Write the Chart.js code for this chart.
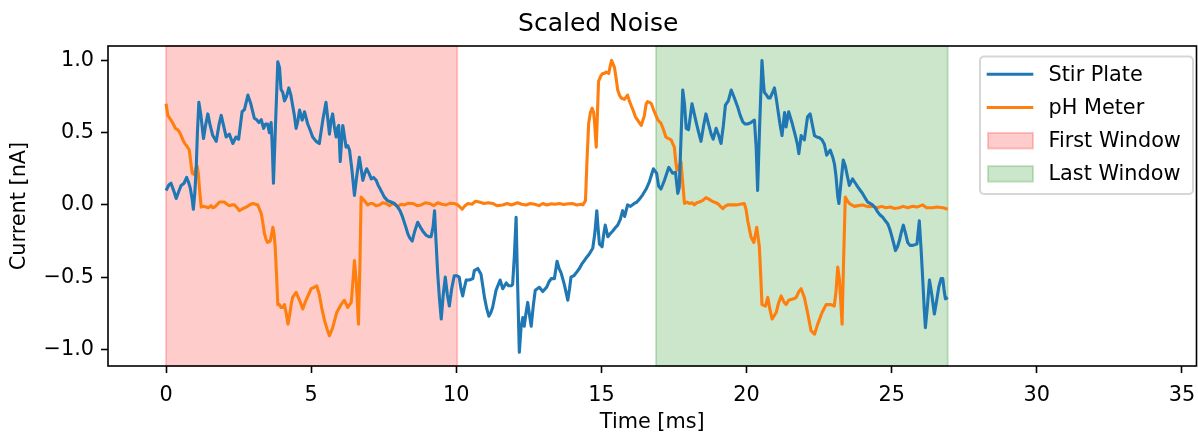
<!DOCTYPE html>
<html>
<head>
<meta charset="utf-8">
<script src="https://cdn.jsdelivr.net/npm/chart.js@4.4.1/dist/chart.umd.min.js"></script>
<style>
  html, body { margin: 0; padding: 0; background: #fff; }
  #noiseChart { display: block; }
</style>
</head>
<body>
<canvas id="noiseChart" width="1198" height="433"></canvas>
<script>
// Values (time in ms, current in nA)
const stirTime = [
  0.00, 0.10, 0.17, 0.28, 0.35, 0.45, 0.52, 0.62, 0.71, 0.77,
  0.83, 0.90, 0.94, 0.99, 1.04, 1.08, 1.13, 1.20, 1.29, 1.36,
  1.44, 1.52, 1.61, 1.73, 1.82, 1.90, 1.98, 2.07, 2.18, 2.30,
  2.41, 2.50, 2.56, 2.62, 2.70, 2.82, 2.92, 3.04, 3.12, 3.20,
  3.28, 3.36, 3.43, 3.50, 3.56, 3.62, 3.66, 3.70, 3.77, 3.85,
  3.91, 3.96, 4.02, 4.08, 4.15, 4.23, 4.30, 4.36, 4.42, 4.48,
  4.54, 4.60, 4.69, 4.77, 4.88, 4.96, 5.05, 5.17, 5.28, 5.40,
  5.51, 5.57, 5.63, 5.68, 5.74, 5.80, 5.86, 5.90, 5.95, 6.00,
  6.05, 6.09, 6.15, 6.20, 6.26, 6.32, 6.40, 6.49, 6.57, 6.66,
  6.72, 6.78, 6.85, 6.91, 6.99, 7.07, 7.15, 7.24, 7.30, 7.35,
  7.43, 7.52, 7.63, 7.75, 7.87, 7.98, 8.06, 8.15, 8.24, 8.33,
  8.40, 8.48, 8.57, 8.67, 8.75, 8.84, 8.96, 9.05, 9.13, 9.20,
  9.25, 9.30, 9.36, 9.42, 9.48, 9.55, 9.62, 9.69, 9.76, 9.84,
  9.93, 10.01, 10.10, 10.16, 10.22, 10.28, 10.34, 10.45, 10.57, 10.62,
  10.74, 10.85, 10.91, 10.97, 11.05, 11.12, 11.18, 11.25, 11.37, 11.45,
  11.51, 11.60, 11.72, 11.80, 11.89, 11.94, 12.00, 12.06, 12.10, 12.17,
  12.23, 12.29, 12.34, 12.40, 12.46, 12.52, 12.58, 12.65, 12.72, 12.86,
  12.98, 13.11, 13.20, 13.27, 13.38, 13.47, 13.54, 13.61, 13.72, 13.84,
  13.90, 13.95, 14.05, 14.13, 14.24, 14.32, 14.41, 14.50, 14.58, 14.70,
  14.77, 14.84, 14.88, 14.93, 15.02, 15.08, 15.13, 15.22, 15.30, 15.39,
  15.47, 15.56, 15.65, 15.73, 15.80, 15.90, 16.00, 16.13, 16.22, 16.31,
  16.42, 16.54, 16.65, 16.79, 16.90, 16.97, 17.05, 17.17, 17.32, 17.45,
  17.55, 17.63, 17.68, 17.80, 17.86, 17.92, 18.00, 18.12, 18.26, 18.35,
  18.43, 18.52, 18.60, 18.70, 18.78, 18.85, 18.95, 19.04, 19.12, 19.20,
  19.27, 19.37, 19.47, 19.58, 19.69, 19.78, 19.87, 19.95, 20.03, 20.15,
  20.27, 20.33, 20.38, 20.45, 20.53, 20.58, 20.61, 20.69, 20.75, 20.81,
  20.90, 20.96, 21.02, 21.07, 21.15, 21.22, 21.31, 21.36, 21.45, 21.57,
  21.68, 21.75, 21.80, 21.88, 21.99, 22.10, 22.19, 22.26, 22.34, 22.42,
  22.51, 22.60, 22.68, 22.76, 22.88, 22.97, 23.03, 23.08, 23.14, 23.18,
  23.25, 23.33, 23.40, 23.45, 23.54, 23.60, 23.65, 23.75, 23.83, 23.92,
  24.00, 24.08, 24.17, 24.26, 24.34, 24.43, 24.52, 24.60, 24.69, 24.78,
  24.86, 24.92, 24.98, 25.06, 25.13, 25.20, 25.26, 25.33, 25.40, 25.48,
  25.55, 25.63, 25.72, 25.80, 25.87, 25.95, 26.01, 26.07, 26.12, 26.16,
  26.23, 26.30, 26.38, 26.47, 26.55, 26.62, 26.70, 26.76, 26.81, 26.85,
  26.93
];
const stirCurrent = [
  0.10, 0.14, 0.15, 0.09, 0.045, 0.10, 0.135, 0.15, 0.19, 0.16,
  0.12, 0.04, -0.03, 0.08, 0.26, 0.50, 0.71, 0.62, 0.46, 0.55,
  0.63, 0.55, 0.48, 0.44, 0.55, 0.62, 0.55, 0.47, 0.49, 0.425,
  0.47, 0.455, 0.55, 0.645, 0.66, 0.76, 0.70, 0.60, 0.59, 0.57,
  0.59, 0.53, 0.56, 0.56, 0.50, 0.57, 0.40, 0.15, 0.55, 0.99,
  0.95, 0.80, 0.78, 0.72, 0.75, 0.81, 0.76, 0.69, 0.62, 0.53,
  0.58, 0.656, 0.587, 0.645, 0.56, 0.52, 0.47, 0.44, 0.425, 0.587,
  0.71, 0.60, 0.49, 0.58, 0.63, 0.54, 0.47, 0.53, 0.55, 0.30,
  0.45, 0.55, 0.47, 0.40, 0.41, 0.38, 0.25, 0.066, 0.20, 0.33,
  0.25, 0.17, 0.22, 0.25, 0.22, 0.18, 0.19, 0.17, 0.14, 0.12,
  0.09, 0.054, 0.03, 0.02, 0.01, -0.015, -0.04, -0.085, -0.14, -0.20,
  -0.23, -0.25, -0.18, -0.12, -0.15, -0.18, -0.21, -0.22, -0.22, -0.15,
  -0.04, -0.25, -0.48, -0.65, -0.79, -0.62, -0.50, -0.62, -0.70, -0.58,
  -0.49, -0.49, -0.50, -0.58, -0.63, -0.57, -0.52, -0.52, -0.51, -0.455,
  -0.44, -0.48, -0.56, -0.64, -0.72, -0.77, -0.75, -0.71, -0.59, -0.55,
  -0.52, -0.58, -0.54, -0.56, -0.56, -0.55, -0.35, -0.085, -0.45, -1.02,
  -0.85, -0.78, -0.84, -0.75, -0.675, -0.76, -0.84, -0.70, -0.59, -0.57,
  -0.60, -0.57, -0.53, -0.51, -0.51, -0.39, -0.44, -0.47, -0.55, -0.66,
  -0.58, -0.50, -0.49, -0.47, -0.44, -0.41, -0.385, -0.36, -0.34, -0.30,
  -0.20, -0.04, -0.15, -0.27, -0.29, -0.20, -0.14, -0.22, -0.20, -0.18,
  -0.16, -0.14, -0.10, -0.04, -0.08, 0.00, -0.01, 0.01, 0.02, 0.04,
  0.07, 0.11, 0.16, 0.25, 0.22, 0.13, 0.11, 0.17, 0.26, 0.22,
  0.225, 0.08, 0.12, 0.795, 0.70, 0.53, 0.52, 0.70, 0.575, 0.50,
  0.44, 0.55, 0.63, 0.55, 0.49, 0.455, 0.53, 0.48, 0.425, 0.55,
  0.69, 0.72, 0.795, 0.74, 0.68, 0.62, 0.575, 0.56, 0.56, 0.57,
  0.587, 0.40, 0.10, 0.55, 1.00, 0.85, 0.78, 0.76, 0.74, 0.74,
  0.78, 0.81, 0.74, 0.67, 0.56, 0.48, 0.64, 0.54, 0.645, 0.565,
  0.48, 0.42, 0.355, 0.48, 0.45, 0.61, 0.63, 0.56, 0.48, 0.47,
  0.465, 0.45, 0.42, 0.345, 0.38, 0.33, 0.28, 0.20, 0.06, 0.01,
  0.15, 0.31, 0.27, 0.22, 0.135, 0.16, 0.18, 0.15, 0.125, 0.10,
  0.078, 0.05, 0.02, 0.01, 0.00, -0.02, -0.05, -0.07, -0.085, -0.11,
  -0.13, -0.16, -0.20, -0.26, -0.316, -0.29, -0.25, -0.19, -0.14, -0.20,
  -0.26, -0.28, -0.28, -0.275, -0.27, -0.11, -0.30, -0.52, -0.72, -0.85,
  -0.70, -0.52, -0.62, -0.755, -0.66, -0.57, -0.51, -0.51, -0.60, -0.65,
  -0.64
];

const phTime = [
  0.00, 0.06, 0.17, 0.25, 0.32, 0.40, 0.46, 0.52, 0.58, 0.66,
  0.71, 0.80, 0.85, 0.90, 0.97, 1.02, 1.07, 1.11, 1.15, 1.21,
  1.30, 1.38, 1.46, 1.55, 1.61, 1.67, 1.75, 1.84, 1.92, 2.01,
  2.10, 2.18, 2.27, 2.36, 2.45, 2.53, 2.65, 2.76, 2.88, 2.99,
  3.08, 3.16, 3.22, 3.28, 3.34, 3.39, 3.45, 3.50, 3.59, 3.64,
  3.68, 3.72, 3.76, 3.81, 3.85, 3.91, 3.96, 4.02, 4.08, 4.14,
  4.20, 4.26, 4.31, 4.36, 4.48, 4.60, 4.71, 4.82, 4.91, 5.00,
  5.10, 5.19, 5.28, 5.37, 5.46, 5.55, 5.63, 5.74, 5.88, 6.03,
  6.14, 6.26, 6.38, 6.45, 6.49, 6.55, 6.63, 6.68, 6.72, 6.83,
  6.95, 7.03, 7.12, 7.23, 7.35, 7.46, 7.58, 7.70, 7.81, 7.90,
  7.98, 8.10, 8.21, 8.35, 8.50, 8.65, 8.79, 8.93, 9.07, 9.22,
  9.36, 9.50, 9.65, 9.80, 9.93, 10.05, 10.20, 10.30, 10.40, 10.55,
  10.65, 10.79, 10.95, 11.10, 11.25, 11.40, 11.60, 11.75, 11.90, 12.11,
  12.25, 12.40, 12.55, 12.70, 12.85, 12.98, 13.12, 13.28, 13.40, 13.55,
  13.70, 13.85, 14.00, 14.15, 14.30, 14.36, 14.45, 14.50, 14.56, 14.62,
  14.68, 14.73, 14.76, 14.82, 14.86, 14.90, 14.97, 15.04, 15.10, 15.16,
  15.25, 15.30, 15.35, 15.45, 15.51, 15.56, 15.62, 15.68, 15.79, 15.90,
  15.96, 16.02, 16.10, 16.17, 16.27, 16.37, 16.48, 16.54, 16.59, 16.65,
  16.72, 16.82, 16.94, 17.05, 17.12, 17.22, 17.30, 17.40, 17.51, 17.56,
  17.60, 17.68, 17.74, 17.80, 17.86, 17.95, 18.03, 18.12, 18.20, 18.28,
  18.37, 18.48, 18.60, 18.70, 18.78, 18.88, 19.00, 19.10, 19.18, 19.26,
  19.35, 19.50, 19.64, 19.78, 19.92, 19.98, 20.04, 20.10, 20.15, 20.25,
  20.35, 20.44, 20.49, 20.53, 20.65, 20.73, 20.80, 20.88, 21.02, 21.10,
  21.19, 21.28, 21.36, 21.45, 21.53, 21.62, 21.71, 21.80, 21.88, 21.99,
  22.10, 22.22, 22.34, 22.45, 22.60, 22.74, 22.91, 23.02, 23.08, 23.14,
  23.20, 23.29, 23.34, 23.40, 23.47, 23.54, 23.62, 23.71, 23.85, 24.00,
  24.17, 24.34, 24.50, 24.65, 24.80, 24.95, 25.10, 25.26, 25.40, 25.55,
  25.72, 25.87, 26.07, 26.20, 26.41, 26.55, 26.76, 26.85, 26.93
];
const phCurrent = [
  0.70, 0.62, 0.587, 0.56, 0.53, 0.52, 0.505, 0.48, 0.45, 0.42,
  0.41, 0.38, 0.30, 0.22, 0.21, 0.25, 0.27, 0.22, 0.12, -0.015,
  -0.01, -0.015, -0.02, -0.005, -0.02, -0.015, 0.00, 0.02, 0.02, 0.02,
  0.005, -0.005, 0.00, 0.00, -0.02, -0.04, -0.025, -0.015, 0.00, 0.01,
  0.005, 0.00, -0.03, -0.06, -0.13, -0.20, -0.24, -0.26, -0.25, -0.20,
  -0.155, -0.20, -0.29, -0.50, -0.69, -0.69, -0.71, -0.71, -0.69, -0.75,
  -0.825, -0.76, -0.69, -0.64, -0.605, -0.66, -0.72, -0.66, -0.62, -0.58,
  -0.57, -0.56, -0.62, -0.72, -0.80, -0.86, -0.906, -0.85, -0.745, -0.69,
  -0.66, -0.71, -0.675, -0.50, -0.385, -0.52, -0.825, -0.40, 0.054, 0.03,
  0.00, 0.01, 0.01, -0.005, 0.00, 0.015, 0.01, -0.005, 0.01, 0.00,
  -0.01, 0.005, 0.00, 0.012, 0.01, -0.005, 0.00, 0.015, 0.01, -0.005,
  0.015, 0.005, 0.00, 0.012, 0.01, 0.00, -0.03, -0.005, 0.01, 0.005,
  0.025, 0.02, 0.01, 0.015, 0.01, -0.005, 0.00, 0.01, 0.00, 0.015,
  0.005, 0.00, 0.01, 0.005, -0.005, 0.01, 0.00, 0.008, 0.005, 0.01,
  0.003, 0.008, 0.01, 0.00, 0.005, 0.00, 0.03, 0.30, 0.565, 0.64,
  0.67, 0.64, 0.58, 0.40, 0.62, 0.855, 0.89, 0.91, 0.91, 0.92,
  0.91, 0.96, 1.00, 0.95, 0.87, 0.795, 0.76, 0.74, 0.73, 0.76,
  0.72, 0.69, 0.65, 0.61, 0.58, 0.55, 0.62, 0.70, 0.715, 0.71,
  0.70, 0.645, 0.59, 0.565, 0.53, 0.47, 0.46, 0.45, 0.40, 0.30,
  0.24, 0.27, 0.30, 0.15, 0.01, 0.02, 0.01, 0.015, 0.00, 0.015,
  0.02, 0.03, 0.05, 0.04, 0.03, 0.02, 0.01, -0.01, -0.026, -0.01,
  0.00, 0.00, 0.00, 0.005, 0.01, -0.03, -0.11, -0.17, -0.22, -0.26,
  -0.155, -0.29, -0.50, -0.69, -0.70, -0.64, -0.72, -0.79, -0.745, -0.68,
  -0.63, -0.67, -0.69, -0.66, -0.655, -0.65, -0.64, -0.60, -0.58, -0.64,
  -0.745, -0.87, -0.895, -0.825, -0.745, -0.69, -0.69, -0.70, -0.60, -0.43,
  -0.52, -0.825, -0.40, 0.054, 0.03, 0.01, 0.00, -0.01, -0.005, 0.00,
  -0.012, -0.01, -0.02, -0.01, -0.02, -0.015, -0.025, -0.02, -0.01, -0.02,
  -0.01, -0.015, 0.00, -0.02, -0.02, -0.015, -0.02, -0.025, -0.03
];

// shaded windows
const windowNames = ['First Window', 'Last Window'];
const windowStart = [0, 16.88];
const windowEnd = [10.03, 26.93];

// axis ticks
const xTicks = [0, 5, 10, 15, 20, 25, 30, 35];
const yTicks = [-1.0, -0.5, 0.0, 0.5, 1.0];

const toPoints = (xs, ys) => xs.map((x, i) => ({ x: x, y: ys[i] }));

const windowFill = ['rgba(255, 0, 0, 0.2)', 'rgba(0, 128, 0, 0.2)'];

Chart.defaults.font.family = "'DejaVu Sans', sans-serif";
Chart.defaults.color = '#000';

// Shaded spans behind the lines
const windowPlugin = {
  id: 'windows',
  beforeDatasetsDraw(chart) {
    const ctx = chart.ctx;
    const area = chart.chartArea;
    const x = chart.scales.x;
    ctx.save();
    windowNames.forEach((name, i) => {
      const x0 = x.getPixelForValue(windowStart[i]);
      const x1 = x.getPixelForValue(windowEnd[i]);
      ctx.fillStyle = windowFill[i];
      ctx.fillRect(x0, area.top, x1 - x0, area.bottom - area.top);
      ctx.strokeStyle = windowFill[i];
      ctx.lineWidth = 2;
      ctx.strokeRect(x0, area.top, x1 - x0, area.bottom - area.top);
    });
    ctx.restore();
  }
};

// Frame on all four sides plus the legend box
const framePlugin = {
  id: 'frame',
  afterDatasetsDraw(chart) {
    const ctx = chart.ctx;
    const a = chart.chartArea;
    ctx.save();
    ctx.strokeStyle = '#000';
    ctx.lineWidth = 1.6;
    ctx.strokeRect(a.left, a.top, a.right - a.left, a.bottom - a.top);
    ctx.restore();
  },
  afterDraw(chart) {
    const ctx = chart.ctx;
    const a = chart.chartArea;
    const left = a.right - 216.5;
    const top = a.top + 10.5;
    const w = 213;
    const h = 137.5;
    ctx.save();
    ctx.beginPath();
    ctx.roundRect(left, top, w, h, 4);
    ctx.fillStyle = 'rgba(255, 255, 255, 0.8)';
    ctx.fill();
    ctx.strokeStyle = 'rgba(204, 204, 204, 0.8)';
    ctx.lineWidth = 2;
    ctx.stroke();

    const rowY = (i) => top + 17.8 + i * 33.2;
    ctx.font = "20.8px 'DejaVu Sans'";
    ctx.textBaseline = 'middle';
    ctx.textAlign = 'left';

    chart.data.datasets.forEach((ds, i) => {
      const y = rowY(i);
      ctx.beginPath();
      ctx.moveTo(left + 6.7, y);
      ctx.lineTo(left + 53.3, y);
      ctx.strokeStyle = ds.borderColor;
      ctx.lineWidth = ds.borderWidth;
      ctx.stroke();
      ctx.fillStyle = '#000';
      ctx.fillText(ds.label, left + 68.5, y + 1);
    });
    windowNames.forEach((name, j) => {
      const y = rowY(chart.data.datasets.length + j);
      ctx.fillStyle = windowFill[j];
      ctx.fillRect(left + 8, y - 7.8, 45, 15.6);
      ctx.strokeStyle = windowFill[j];
      ctx.lineWidth = 2;
      ctx.strokeRect(left + 8, y - 7.8, 45, 15.6);
      ctx.fillStyle = '#000';
      ctx.fillText(name, left + 68.5, y + 1);
    });
    ctx.restore();
  }
};

const ctx = document.getElementById('noiseChart').getContext('2d');
const noiseChart = new Chart(ctx, {
  type: 'line',
  data: {
    datasets: [{
      label: 'Stir Plate',
      data: toPoints(stirTime, stirCurrent),
      borderColor: '#1f77b4',
      borderWidth: 3.1,
      pointRadius: 0,
      tension: 0,
      borderJoinStyle: 'round',
      fill: false
    }, {
      label: 'pH Meter',
      data: toPoints(phTime, phCurrent),
      borderColor: '#ff7f0e',
      borderWidth: 3.1,
      pointRadius: 0,
      tension: 0,
      borderJoinStyle: 'round',
      fill: false
    }]
  },
  options: {
    responsive: false,
    animation: false,
    devicePixelRatio: 1,
    layout: { padding: { left: 0, right: 1.5, top: 0, bottom: 0 } },
    plugins: {
      legend: { display: false },
      tooltip: { enabled: false },
      title: {
        display: true,
        text: 'Scaled Noise',
        color: '#000',
        font: { size: 25, weight: 'normal' },
        padding: { top: 9, bottom: 7 }
      }
    },
    scales: {
      x: {
        type: 'linear',
        min: -2,
        max: 35.5,
        afterBuildTicks: (scale) => { scale.ticks = xTicks.map(v => ({ value: v })); },
        afterFit: (scale) => {
          scale.height = 67;
          scale.paddingLeft = 0;
          scale.paddingRight = 0;
        },
        grid: { drawOnChartArea: false, drawTicks: true, tickLength: 7, tickColor: '#000', tickWidth: 1.6 },
        border: { display: false },
        ticks: { font: { size: 20.8 }, color: '#000', padding: 10.5, maxRotation: 0, callback: (v) => String(v) },
        title: { display: true, text: 'Time [ms]', color: '#000', font: { size: 20.8, lineHeight: 1 }, padding: { top: 0, bottom: 0 } }
      },
      y: {
        type: 'linear',
        min: -1.115,
        max: 1.10,
        afterBuildTicks: (scale) => { scale.ticks = yTicks.map(v => ({ value: v })); },
        afterFit: (scale) => {
          scale.width = 108;
          scale.paddingTop = 0;
          scale.paddingBottom = 0;
        },
        grid: { drawOnChartArea: false, drawTicks: true, tickLength: 7, tickColor: '#000', tickWidth: 1.6 },
        border: { display: false },
        ticks: {
          font: { size: 20.8 },
          color: '#000',
          padding: 7,
          callback: (v) => (v < 0 ? '\u2212' : '') + Math.abs(v).toFixed(1)
        },
        title: { display: true, text: 'Current [nA]', color: '#000', font: { size: 20.8 }, padding: { top: 7, bottom: 0 } }
      }
    }
  },
  plugins: [windowPlugin, framePlugin]
});
</script>
</body>
</html>
